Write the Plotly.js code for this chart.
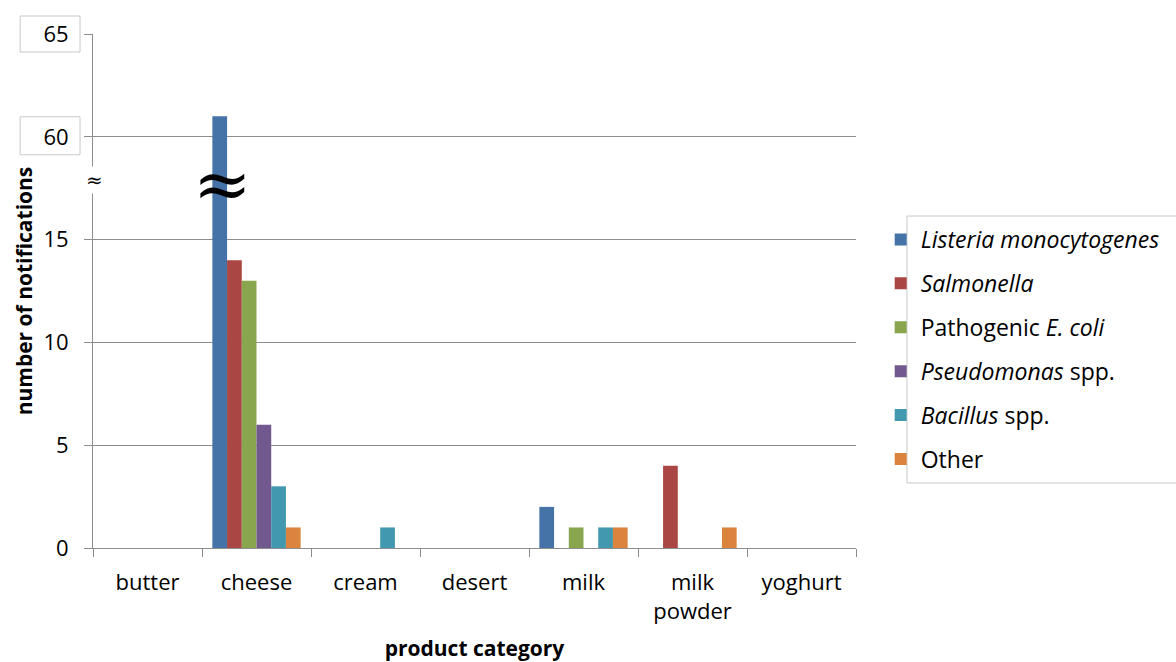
<!DOCTYPE html>
<html>
<head>
<meta charset="utf-8">
<script src="https://cdn.plot.ly/plotly-3.0.1.min.js"></script>
<style>html,body{margin:0;padding:0;background:#fff;}#chart{width:1176px;height:662px;}</style>
</head>
<body>
<div id="chart"></div>
<script>
// ---- data ----
const categories = ["butter", "cheese", "cream", "desert", "milk", "milk<br>powder", "yoghurt"];
const listeria    = [0, 61, 0, 0, 2, 0, 0];
const salmonella  = [0, 14, 0, 0, 0, 4, 0];
const ecoli       = [0, 13, 0, 0, 1, 0, 0];
const pseudomonas = [0, 6, 0, 0, 0, 0, 0];
const bacillus    = [0, 3, 1, 0, 1, 0, 0];
const other       = [0, 1, 0, 0, 1, 1, 0];
const seriesNames = ["<i>Listeria monocytogenes</i>", "<i>Salmonella</i>", "Pathogenic <i>E. coli</i>", "<i>Pseudomonas</i> spp.", "<i>Bacillus</i> spp.", "Other"];
const seriesColors = ["#4572A7", "#AA4643", "#89A54E", "#71588F", "#4198AF", "#DB843D"];
const tickLabels = ["0", "5", "10", "15", "60", "65"];
// broken axis: values above the break are shifted down by breakShift
const breakLow = 20, breakShift = 40;
const tickActual = [0, 5, 10, 15, 60, 65];

function axisVal(v) { return v > breakLow ? v - breakShift : v; }

const allSeries = [listeria, salmonella, ecoli, pseudomonas, bacillus, other];
const FONT = "'Open Sans', sans-serif";

const traces = allSeries.map((s, i) => ({
  type: "bar",
  name: seriesNames[i],
  x: categories,
  y: s.map(axisVal),
  customdata: s,
  hovertemplate: "%{x}: %{customdata}<extra></extra>",
  marker: { color: seriesColors[i], line: { width: 0 } },
  legendgroup: "g" + i
}));

const tickvals = tickActual.map(axisVal);

const layout = {
  width: 1176, height: 662,
  margin: { l: 93, r: 319, t: 34, b: 114 },
  paper_bgcolor: "#fff", plot_bgcolor: "#fff",
  font: { family: FONT, size: 22, color: "#000" },
  barmode: "group",
  bargap: 0.19, bargroupgap: 0,
  showlegend: true,
  legend: {
    x: 1.031, xanchor: "left", y: 0.642, yanchor: "top",
    font: { family: FONT, size: 23, color: "#000" },
    traceorder: "grouped", tracegroupgap: 11,
    bgcolor: "rgba(0,0,0,0)", borderwidth: 0
  },
  xaxis: {
    type: "category",
    tickson: "boundaries",
    ticks: "outside", ticklen: 8, tickcolor: "#8c8c8c",
    showline: true, linecolor: "#8c8c8c", linewidth: 1,
    showgrid: false,
    tickfont: { family: FONT, size: 22 },
    ticklabelstandoff: 15,
    title: { text: "<b>product category</b>", font: { family: FONT, size: 21 }, standoff: 29 },
    fixedrange: true
  },
  yaxis: {
    range: [0, 25],
    tickvals: tickvals, ticktext: tickLabels,
    ticks: "outside", ticklen: 8, tickcolor: "#8c8c8c",
    showline: true, linecolor: "#8c8c8c", linewidth: 1,
    showgrid: true, gridcolor: "#8c8c8c", gridwidth: 1,
    zeroline: false,
    tickfont: { family: FONT, size: 22 },
    ticklabelstandoff: 11,
    title: { text: "<b>number of notifications</b>", font: { family: FONT, size: 21 }, standoff: 5 },
    fixedrange: true
  },
  shapes: [
    // boxes around the tick labels above the break
    { type: "rect", xref: "paper", yref: "paper", x0: -0.0955, x1: -0.0170, y0: 0.9650, y1: 1.0350, line: { color: "#c8c8c8", width: 1 }, fillcolor: "rgba(0,0,0,0)" },
    { type: "rect", xref: "paper", yref: "paper", x0: -0.0955, x1: -0.0170, y0: 0.7650, y1: 0.8390, line: { color: "#c8c8c8", width: 1 }, fillcolor: "rgba(0,0,0,0)" },
    // legend box
    { type: "rect", xref: "paper", yref: "paper", x0: 1.0668, x1: 1.45, y0: 0.1265, y1: 0.6459, line: { color: "#c8c8c8", width: 1 }, fillcolor: "rgba(0,0,0,0)" }
  ],
  annotations: [
    { xref: "paper", yref: "y", x: 0.002, xanchor: "center", y: 17.9, text: "≈", showarrow: false, font: { family: "DejaVu Serif, serif", size: 20, color: "#000" }, bgcolor: "#fff" },
    { xref: "x", yref: "y", x: 1, xshift: -34, y: 17.7, text: "≈", showarrow: false, font: { family: "DejaVu Serif, serif", size: 70, color: "#000" } }
  ]
};

Plotly.newPlot("chart", traces, layout, { displayModeBar: false, staticPlot: true });
</script>
</body>
</html>
